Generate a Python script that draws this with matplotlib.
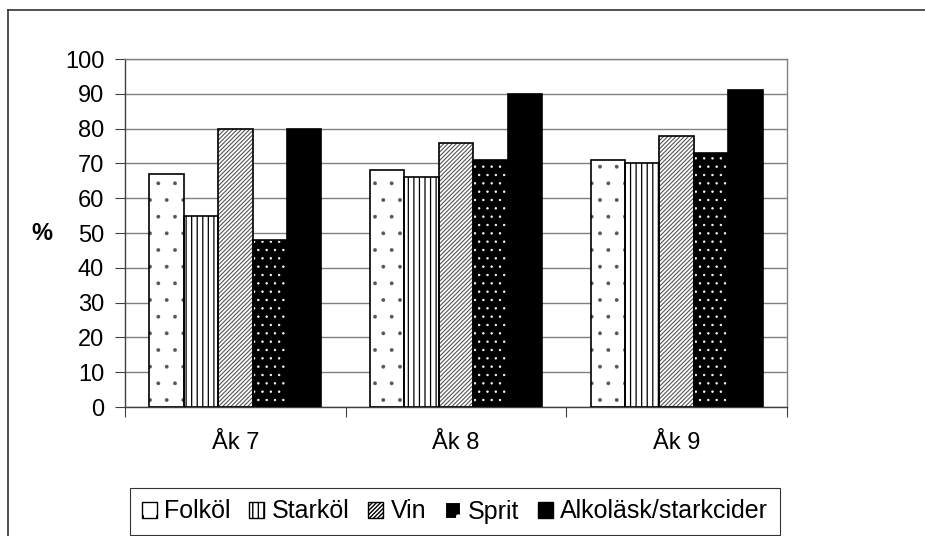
"""Alcohol types by school year, grouped hatched bars"""

import numpy as np
from matplotlib import pyplot as plt
from matplotlib.patches import Patch
from matplotlib.lines import Line2D

# Data
grades = ["Åk 7", "Åk 8", "Åk 9"]
drinks = ["Folköl", "Starköl", "Vin", "Sprit", "Alkoläsk/starkcider"]
folkol = [67, 68, 71]
starkol = [55, 66, 70]
vin = [80, 76, 78]
sprit = [48, 71, 73]
alkolask = [80, 90, 91]
yticks = list(range(0, 101, 10))

series = [folkol, starkol, vin, sprit, alkolask]

plt.rcParams['font.family'] = ['Liberation Sans', 'DejaVu Sans']

fig = plt.figure(figsize=(9.25, 5.36), dpi=100)
ax = fig.add_axes([125 / 925, 1 - 407 / 536, 662 / 925, 348 / 536])

x = np.arange(len(grades))
width = 0.156
offsets = (np.arange(len(drinks)) - 2) * width

# Styles per series: (facecolor, hatch colour, hatch, hatch linewidth)
styles = [
    ('white', '#555555', '.', 0.3),
    ('white', 'black', '|||', 0.9),
    ('white', '#555555', '////////', 0.8),
    ('black', 'white', '..', 0.5),
    ('black', 'black', None, 1.0),
]

handles = []
for vals, off, (fc, hc, hatch, hlw), name in zip(series, offsets, styles, drinks):
    with plt.rc_context({'hatch.linewidth': hlw}):
        # Fill and hatch
        ax.bar(x + off, vals, width, facecolor=fc, edgecolor=hc, hatch=hatch,
               linewidth=0, zorder=2)
        # Black outline
        ax.bar(x + off, vals, width, fill=False, edgecolor='black',
               linewidth=1.2, zorder=3)
        if fc == 'black' and hatch:
            h = Patch(facecolor=fc, edgecolor='white', hatch='.', linewidth=0.8,
                      label=name)
        else:
            h = Patch(facecolor=fc, edgecolor='black', hatch=hatch,
                      linewidth=1.0, label=name)
    handles.append(h)

# Axis limits and ticks
ax.set_xlim(-0.5, 2.5)
ax.set_ylim(0, 100)
ax.set_yticks(yticks)
ax.tick_params(axis='y', direction='out', length=7, width=0.8, color='#404040',
               labelsize=17, pad=8)
ax.set_xticks([-0.5, 0.5, 1.5, 2.5])
ax.set_xticklabels([])
ax.set_xticks(x, minor=True)
ax.set_xticklabels(grades, minor=True)
ax.tick_params(axis='x', which='major', direction='out', length=7, width=0.8,
               color='#404040')
ax.tick_params(axis='x', which='minor', length=0, labelsize=17, pad=18)

# Grid and frame
ax.yaxis.grid(True, color='#808080', linewidth=1.0)
ax.set_axisbelow(True)
ax.spines['left'].set_color('#404040')
ax.spines['bottom'].set_color('#404040')
ax.spines['top'].set_color('#808080')
ax.spines['right'].set_color('#808080')
for s in ax.spines.values():
    s.set_linewidth(1.0)

ax.set_ylabel('%', rotation=0, fontsize=17, fontweight='bold', va='center')
ax.yaxis.set_label_coords(-0.125, 0.5)

# Legend
leg = fig.legend(handles=handles, loc='center', ncol=5,
                 bbox_to_anchor=(455 / 925, 1 - 511.5 / 536),
                 fontsize=18, frameon=True, fancybox=False, edgecolor='black',
                 handlelength=0.6, handleheight=0.6, handletextpad=0.3,
                 columnspacing=0.75, borderpad=0.45, borderaxespad=0)
leg.get_frame().set_linewidth(0.8)

# Outer chart border (cropped at right and bottom)
fig.add_artist(Line2D([8 / 925, 8 / 925], [0, 1 - 10 / 536], color='#333333',
                      linewidth=1.2, transform=fig.transFigure))
fig.add_artist(Line2D([8 / 925, 1], [1 - 10 / 536, 1 - 10 / 536], color='#333333',
                      linewidth=1.2, transform=fig.transFigure))

fig.savefig('out.png', dpi=100)
